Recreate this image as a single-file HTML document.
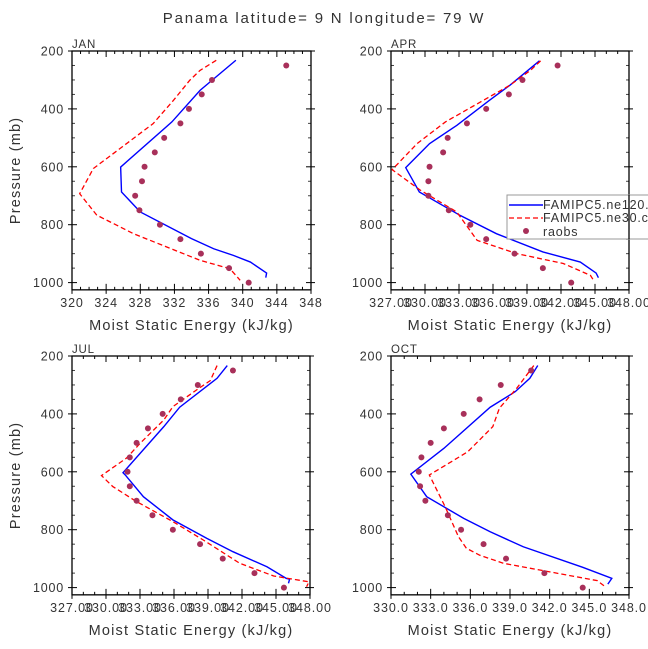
<!DOCTYPE html>
<html><head><meta charset="utf-8"><style>
html,body{margin:0;padding:0;background:#fff;}
svg{display:block;font-family:"Liberation Sans",sans-serif;}
</style></head><body>
<svg id="chart" width="648" height="649" viewBox="0 0 648 649" xmlns="http://www.w3.org/2000/svg">
<text x="324" y="23" text-anchor="middle" font-size="15" letter-spacing="1.8" fill="#333">Panama  latitude= 9 N longitude= 79 W</text>
</svg>
<script>
// Pressure levels of raobs
const obsP = [250,300,350,400,450,500,550,600,650,700,750,800,850,900,950,1000];
// JAN
const janBlueP = [232,336,445,601,687,756,848,883,906,929,967,983];
const janBlueX = [339.2,335.0,331.7,325.7,325.8,328.0,334.0,336.6,338.9,340.9,342.8,342.7];
const janRedP = [232,267,301,370,451,606,693,767,831,877,923,952,992];
const janRedX = [336.9,335.0,333.8,331.9,329.5,322.5,320.9,322.9,327.2,331.1,335.0,338.5,339.7];
const janObs = [345.1,336.4,335.2,333.7,332.7,330.8,329.7,328.5,328.2,327.4,327.9,330.3,332.7,335.1,338.4,340.7];
// APR
const aprBlueP = [234,318,370,457,520,603,687,768,831,894,929,967,983];
const aprBlueX = [340.1,337.5,335.7,332.8,330.4,328.3,329.5,333.1,336.3,340.4,343.7,345.1,345.3];
const aprRedP = [234,267,318,376,445,520,610,681,756,854,900,934,975,994];
const aprRedX = [340.2,339.3,337.5,334.9,331.8,329.3,327.1,329.6,332.8,334.6,338.1,342.2,344.6,344.9];
const aprObs = [341.7,338.6,337.4,335.4,333.7,332.0,331.6,330.4,330.3,330.3,332.1,334.0,335.4,337.9,340.4,342.9];
// JUL
const julBlueP = [233,277,377,444,603,611,686,766,830,876,928,968,971,985];
const julBlueX = [340.7,339.8,336.5,335.1,331.5,331.7,333.3,335.9,338.9,341.2,344.2,345.9,346.2,346.1];
const julRedP = [233,285,317,375,421,502,553,613,651,703,772,836,916,960,980,997];
const julRedX = [339.8,339.2,338.0,335.9,335.1,333.0,331.8,329.6,330.6,332.7,335.9,338.6,341.8,344.8,347.9,347.7];
const julObs = [341.2,338.1,336.6,335.0,333.7,332.7,332.1,331.9,332.1,332.7,334.1,335.9,338.3,340.3,343.1,345.7];
// OCT
const octBlueP = [233,277,323,377,519,608,686,761,807,859,930,968,988];
const octBlueX = [341.1,340.5,339.4,337.5,334.0,331.5,332.7,335.5,337.5,340.0,344.5,346.7,346.4];
const octRedP = [233,312,380,444,531,611,721,824,864,888,916,976,997];
const octRedX = [340.8,339.5,338.2,337.7,335.8,332.9,334.1,335.1,335.7,336.7,338.5,345.6,346.2];
const octObs = [340.6,338.3,336.7,335.5,334.0,333.0,332.3,332.1,332.2,332.6,334.3,335.3,337.0,338.7,341.6,344.5];
// tick labels
const yTicks = [200,400,600,800,1000];
const janXTicks = [320,324,328,332,336,340,344,348];
const tri3Ticks = [327,330,333,336,339,342,345,348];
const octXTicks = [330,333,336,339,342,345,348];

const NS = "http://www.w3.org/2000/svg";
const svg = document.getElementById('chart');
function mk(tag, attrs, parent){const e=document.createElementNS(NS,tag);for(const k in attrs)e.setAttribute(k,attrs[k]);(parent||svg).appendChild(e);return e;}

const panels = [
 {name:'jan',label:'JAN',x0:72,x1:311,y0:51,xmin:320,xmax:348,ticks:janXTicks,fmt:v=>String(v),bp:janBlueP,bx:janBlueX,rp:janRedP,rx:janRedX,ob:janObs,ylab:true},
 {name:'apr',label:'APR',x0:391,x1:629,y0:51,xmin:327,xmax:348,ticks:tri3Ticks,fmt:v=>v.toFixed(1)+'0',bp:aprBlueP,bx:aprBlueX,rp:aprRedP,rx:aprRedX,ob:aprObs,ylab:false},
 {name:'jul',label:'JUL',x0:72,x1:310,y0:356,xmin:327,xmax:348,ticks:tri3Ticks,fmt:v=>v.toFixed(1)+'0',bp:julBlueP,bx:julBlueX,rp:julRedP,rx:julRedX,ob:julObs,ylab:true},
 {name:'oct',label:'OCT',x0:391,x1:629,y0:356,xmin:330,xmax:348,ticks:octXTicks,fmt:v=>v.toFixed(1),bp:octBlueP,bx:octBlueX,rp:octRedP,rx:octRedX,ob:octObs,ylab:false}
];
const PS = 0.2895; // px per mb
panels.forEach(pn=>{
  const g = mk('g',{});
  
  
  const yb = pn.y0 + 825*PS;
  const xs = v => pn.x0 + (v-pn.xmin)/(pn.xmax-pn.xmin)*(pn.x1-pn.x0);
  const ys = p => pn.y0 + (p-200)*PS;
  for(let p=200;p<=1000;p+=50){
    const maj = p%200===0, y=ys(p), L=maj?5:3, c=maj?'#000':'#444';
    mk('line',{x1:pn.x0-(maj?4:0),x2:pn.x0+L,y1:y,y2:y,stroke:c,'stroke-width':1},g);
    mk('line',{x1:pn.x1-L,x2:pn.x1+(maj?4:0),y1:y,y2:y,stroke:c,'stroke-width':1},g);
  }
  for(let v=pn.xmin;v<=pn.xmax;v+=1){
    const maj = pn.ticks.includes(v), x=xs(v), L=maj?6:3;
    mk('line',{x1:x,x2:x,y1:pn.y0,y2:pn.y0+L,stroke:'#000','stroke-width':1},g);
    mk('line',{x1:x,x2:x,y1:yb-L,y2:yb+(maj?4:0),stroke:'#000','stroke-width':1},g);
  }
  mk('rect',{x:pn.x0,y:pn.y0,width:pn.x1-pn.x0,height:yb-pn.y0,fill:'none',stroke:'#000','stroke-width':1.3},g);
  yTicks.forEach(p=>{
    const t=mk('text',{x:pn.x0-8,y:ys(p)+4.5,'text-anchor':'end','font-size':12.5,'letter-spacing':0.8,fill:'#333'},g);
    
    
    t.textContent=p;
  });
  pn.ticks.forEach(v=>{
    const t=mk('text',{x:xs(v),y:yb+17,'text-anchor':'middle','font-size':12.5,'letter-spacing':0.9,fill:'#333'},g);
    
    
    t.textContent=pn.fmt(v);
  });
  const lt=mk('text',{x:pn.x0,y:pn.y0-3,'font-size':11.5,'letter-spacing':0.8,fill:'#333'},g);
  
  
  lt.textContent=pn.label;
  const xt=mk('text',{x:(pn.x0+pn.x1)/2,y:yb+40,'text-anchor':'middle','font-size':14.5,'letter-spacing':1.2,fill:'#333'},g);
  
  
  xt.textContent='Moist Static Energy (kJ/kg)';
  if(pn.ylab){
    const cy=(pn.y0+yb)/2;
    const yt=mk('text',{x:20,y:cy,'text-anchor':'middle','font-size':14.5,'letter-spacing':1.2,fill:'#333',transform:`rotate(-90 20 ${cy})`},g);
    
    
    yt.textContent='Pressure (mb)';
  }
  const blue=mk('polyline',{points:pn.bp.map((p,i)=>xs(pn.bx[i])+','+ys(p)).join(' '),fill:'none',stroke:'#0000ff','stroke-width':1.4},g);
  
  
  const red=mk('polyline',{points:pn.rp.map((p,i)=>xs(pn.rx[i])+','+ys(p)).join(' '),fill:'none',stroke:'#ff0000','stroke-width':1.3,'stroke-dasharray':'5,3'},g);
  
  
  pn.ob.forEach((v,i)=>{
    const c=mk('circle',{cx:xs(v),cy:ys(obsP[i]),r:3,fill:'#a8305a'},g);
    
    
  });
});
// legend
const lg=mk('g',{});


mk('rect',{x:507,y:195,width:150,height:44,fill:'#fff',stroke:'#999','stroke-width':1},lg);
mk('line',{x1:509,x2:543,y1:205,y2:205,stroke:'#0000ff','stroke-width':1.4},lg);
mk('line',{x1:509,x2:543,y1:218,y2:218,stroke:'#ff0000','stroke-width':1.3,'stroke-dasharray':'5,3'},lg);
mk('circle',{cx:526,cy:231,r:3,fill:'#a8305a'},lg);
[['FAMIPC5.ne120.',209,'legend-entry-ne120'],['FAMIPC5.ne30.c',222,'legend-entry-ne30'],['raobs',236,'legend-entry-raobs']].forEach(([s,y,n])=>{
  const t=mk('text',{x:543,y:y,'font-size':12.5,'letter-spacing':0.8,fill:'#333'},lg);
  
  
  t.textContent=s;
});
mk('line',{x1:629,x2:629,y1:195,y2:239,stroke:'#000','stroke-width':1.3},lg);
</script>
</body></html>
